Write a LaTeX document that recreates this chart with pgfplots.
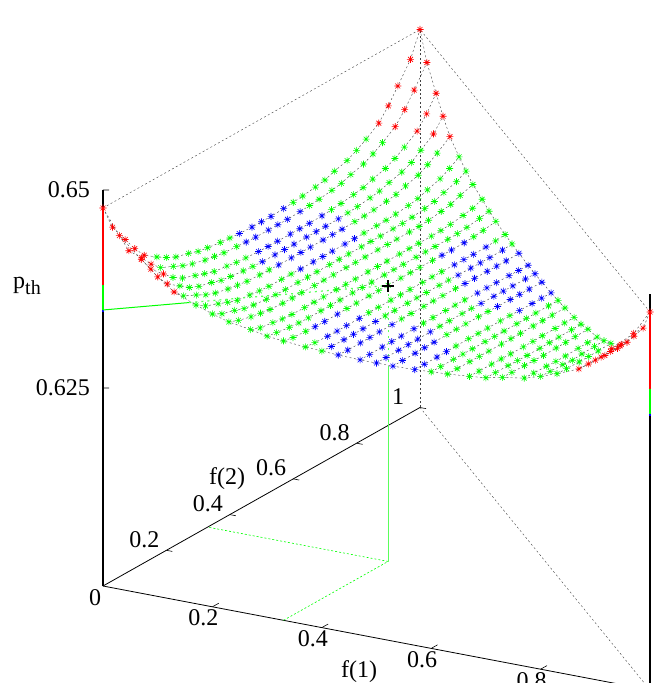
\documentclass[border=0pt]{standalone}
\usepackage{fontspec}
\setmainfont{Liberation Serif}
\usepackage{pgfplots}
\usepackage{pgfplotstable}
\pgfplotsset{compat=1.18}
\definecolor{lg}{RGB}{90,255,90}
\pgfdeclareplotmark{st}{%
  \pgfpathmoveto{\pgfqpoint{-\pgfplotmarksize}{0pt}}\pgfpathlineto{\pgfqpoint{\pgfplotmarksize}{0pt}}%
  \pgfpathmoveto{\pgfqpoint{0pt}{-\pgfplotmarksize}}\pgfpathlineto{\pgfqpoint{0pt}{\pgfplotmarksize}}%
  \pgfpathmoveto{\pgfqpoint{-0.7\pgfplotmarksize}{-0.7\pgfplotmarksize}}\pgfpathlineto{\pgfqpoint{0.7\pgfplotmarksize}{0.7\pgfplotmarksize}}%
  \pgfpathmoveto{\pgfqpoint{-0.7\pgfplotmarksize}{0.7\pgfplotmarksize}}\pgfpathlineto{\pgfqpoint{0.7\pgfplotmarksize}{-0.7\pgfplotmarksize}}%
  \pgfusepathqstroke}
\pgfplotstableread{
f1 f2 z c
0 0 0.64773 r
0 0.03 0.64463 r
0 0.07 0.64217 r
0 0.10 0.64034 r
0 0.13 0.63883 r
0 0.17 0.63771 g
0 0.20 0.63697 g
0 0.23 0.63636 g
0 0.27 0.63592 g
0 0.30 0.63548 g
0 0.33 0.63527 g
0 0.37 0.63504 g
0 0.40 0.63492 g
0 0.43 0.63481 b
0 0.47 0.63472 b
0 0.50 0.63472 b
0 0.53 0.63472 b
0 0.57 0.63481 b
0 0.60 0.63492 g
0 0.63 0.63504 g
0 0.67 0.63527 g
0 0.70 0.63548 g
0 0.73 0.63592 g
0 0.77 0.63636 g
0 0.80 0.63697 g
0 0.83 0.63771 g
0 0.87 0.63883 r
0 0.90 0.64034 r
0 0.93 0.64217 r
0 0.97 0.64463 r
0 1 0.64773 r
nan nan nan n
0.03 0 0.64463 r
0.03 0.03 0.64205 r
0.03 0.07 0.64025 r
0.03 0.10 0.63878 r
0.03 0.13 0.63766 g
0.03 0.17 0.63692 g
0.03 0.20 0.63632 g
0.03 0.23 0.63588 g
0.03 0.27 0.63546 g
0.03 0.30 0.63525 g
0.03 0.33 0.63503 g
0.03 0.37 0.63491 g
0.03 0.40 0.63481 b
0.03 0.43 0.63475 b
0.03 0.47 0.63474 b
0.03 0.50 0.63474 b
0.03 0.53 0.63475 b
0.03 0.57 0.63481 b
0.03 0.60 0.63491 g
0.03 0.63 0.63503 g
0.03 0.67 0.63525 g
0.03 0.70 0.63546 g
0.03 0.73 0.63588 g
0.03 0.77 0.63632 g
0.03 0.80 0.63692 g
0.03 0.83 0.63766 g
0.03 0.87 0.63878 r
0.03 0.90 0.64025 r
0.03 0.93 0.64205 r
0.03 0.97 0.64463 r
nan nan nan n
0.07 0 0.64217 r
0.07 0.03 0.64025 r
0.07 0.07 0.63874 r
0.07 0.10 0.63762 g
0.07 0.13 0.63687 g
0.07 0.17 0.63628 g
0.07 0.20 0.63584 g
0.07 0.23 0.63543 g
0.07 0.27 0.63523 g
0.07 0.30 0.63502 g
0.07 0.33 0.63491 g
0.07 0.37 0.63481 b
0.07 0.40 0.63477 b
0.07 0.43 0.63476 b
0.07 0.47 0.63476 b
0.07 0.50 0.63476 b
0.07 0.53 0.63477 b
0.07 0.57 0.63481 b
0.07 0.60 0.63491 g
0.07 0.63 0.63502 g
0.07 0.67 0.63523 g
0.07 0.70 0.63543 g
0.07 0.73 0.63584 g
0.07 0.77 0.63628 g
0.07 0.80 0.63687 g
0.07 0.83 0.63762 g
0.07 0.87 0.63874 r
0.07 0.90 0.64025 r
0.07 0.93 0.64217 r
nan nan nan n
0.10 0 0.64034 r
0.10 0.03 0.63878 r
0.10 0.07 0.63762 g
0.10 0.10 0.63675 g
0.10 0.13 0.63622 g
0.10 0.17 0.63580 g
0.10 0.20 0.63540 g
0.10 0.23 0.63521 g
0.10 0.27 0.63501 g
0.10 0.30 0.63490 g
0.10 0.33 0.63482 b
0.10 0.37 0.63479 b
0.10 0.40 0.63478 b
0.10 0.43 0.63478 b
0.10 0.47 0.63478 b
0.10 0.50 0.63478 b
0.10 0.53 0.63479 b
0.10 0.57 0.63482 b
0.10 0.60 0.63490 g
0.10 0.63 0.63501 g
0.10 0.67 0.63521 g
0.10 0.70 0.63540 g
0.10 0.73 0.63580 g
0.10 0.77 0.63622 g
0.10 0.80 0.63675 g
0.10 0.83 0.63762 g
0.10 0.87 0.63878 r
0.10 0.90 0.64034 r
nan nan nan n
0.13 0 0.63883 r
0.13 0.03 0.63766 g
0.13 0.07 0.63687 g
0.13 0.10 0.63622 g
0.13 0.13 0.63577 g
0.13 0.17 0.63537 g
0.13 0.20 0.63518 g
0.13 0.23 0.63500 g
0.13 0.27 0.63490 g
0.13 0.30 0.63486 g
0.13 0.33 0.63481 b
0.13 0.37 0.63480 b
0.13 0.40 0.63480 b
0.13 0.43 0.63480 b
0.13 0.47 0.63480 b
0.13 0.50 0.63480 b
0.13 0.53 0.63481 b
0.13 0.57 0.63486 g
0.13 0.60 0.63490 g
0.13 0.63 0.63500 g
0.13 0.67 0.63518 g
0.13 0.70 0.63537 g
0.13 0.73 0.63577 g
0.13 0.77 0.63622 g
0.13 0.80 0.63687 g
0.13 0.83 0.63766 g
0.13 0.87 0.63883 r
nan nan nan n
0.17 0 0.63771 g
0.17 0.03 0.63692 g
0.17 0.07 0.63628 g
0.17 0.10 0.63580 g
0.17 0.13 0.63537 g
0.17 0.17 0.63516 g
0.17 0.20 0.63499 g
0.17 0.23 0.63489 g
0.17 0.27 0.63487 g
0.17 0.30 0.63486 g
0.17 0.33 0.63482 b
0.17 0.37 0.63482 b
0.17 0.40 0.63482 b
0.17 0.43 0.63482 b
0.17 0.47 0.63482 b
0.17 0.50 0.63482 b
0.17 0.53 0.63486 g
0.17 0.57 0.63487 g
0.17 0.60 0.63489 g
0.17 0.63 0.63499 g
0.17 0.67 0.63516 g
0.17 0.70 0.63537 g
0.17 0.73 0.63580 g
0.17 0.77 0.63628 g
0.17 0.80 0.63692 g
0.17 0.83 0.63771 g
nan nan nan n
0.20 0 0.63697 g
0.20 0.03 0.63632 g
0.20 0.07 0.63584 g
0.20 0.10 0.63540 g
0.20 0.13 0.63518 g
0.20 0.17 0.63499 g
0.20 0.20 0.63489 g
0.20 0.23 0.63487 g
0.20 0.27 0.63487 g
0.20 0.30 0.63486 g
0.20 0.33 0.63486 g
0.20 0.37 0.63486 g
0.20 0.40 0.63486 g
0.20 0.43 0.63486 g
0.20 0.47 0.63486 g
0.20 0.50 0.63486 g
0.20 0.53 0.63487 g
0.20 0.57 0.63487 g
0.20 0.60 0.63489 g
0.20 0.63 0.63499 g
0.20 0.67 0.63518 g
0.20 0.70 0.63540 g
0.20 0.73 0.63584 g
0.20 0.77 0.63632 g
0.20 0.80 0.63697 g
nan nan nan n
0.23 0 0.63636 g
0.23 0.03 0.63588 g
0.23 0.07 0.63543 g
0.23 0.10 0.63521 g
0.23 0.13 0.63500 g
0.23 0.17 0.63489 g
0.23 0.20 0.63487 g
0.23 0.23 0.63487 g
0.23 0.27 0.63487 g
0.23 0.30 0.63487 g
0.23 0.33 0.63487 g
0.23 0.37 0.63487 g
0.23 0.40 0.63487 g
0.23 0.43 0.63487 g
0.23 0.47 0.63487 g
0.23 0.50 0.63487 g
0.23 0.53 0.63487 g
0.23 0.57 0.63487 g
0.23 0.60 0.63489 g
0.23 0.63 0.63500 g
0.23 0.67 0.63521 g
0.23 0.70 0.63543 g
0.23 0.73 0.63588 g
0.23 0.77 0.63636 g
nan nan nan n
0.27 0 0.63592 g
0.27 0.03 0.63546 g
0.27 0.07 0.63523 g
0.27 0.10 0.63501 g
0.27 0.13 0.63490 g
0.27 0.17 0.63487 g
0.27 0.20 0.63487 g
0.27 0.23 0.63487 g
0.27 0.27 0.63487 g
0.27 0.30 0.63487 g
0.27 0.33 0.63487 g
0.27 0.37 0.63487 g
0.27 0.40 0.63487 g
0.27 0.43 0.63487 g
0.27 0.47 0.63487 g
0.27 0.50 0.63487 g
0.27 0.53 0.63487 g
0.27 0.57 0.63487 g
0.27 0.60 0.63490 g
0.27 0.63 0.63501 g
0.27 0.67 0.63523 g
0.27 0.70 0.63546 g
0.27 0.73 0.63592 g
nan nan nan n
0.30 0 0.63548 g
0.30 0.03 0.63525 g
0.30 0.07 0.63502 g
0.30 0.10 0.63490 g
0.30 0.13 0.63486 g
0.30 0.17 0.63486 g
0.30 0.20 0.63486 g
0.30 0.23 0.63487 g
0.30 0.27 0.63487 g
0.30 0.30 0.63487 g
0.30 0.33 0.63487 g
0.30 0.37 0.63487 g
0.30 0.40 0.63487 g
0.30 0.43 0.63487 g
0.30 0.47 0.63486 g
0.30 0.50 0.63486 g
0.30 0.53 0.63486 g
0.30 0.57 0.63486 g
0.30 0.60 0.63490 g
0.30 0.63 0.63502 g
0.30 0.67 0.63525 g
0.30 0.70 0.63548 g
nan nan nan n
0.33 0 0.63527 g
0.33 0.03 0.63503 g
0.33 0.07 0.63491 g
0.33 0.10 0.63482 b
0.33 0.13 0.63481 b
0.33 0.17 0.63482 b
0.33 0.20 0.63486 g
0.33 0.23 0.63487 g
0.33 0.27 0.63487 g
0.33 0.30 0.63487 g
0.33 0.33 0.63486 g
0.33 0.37 0.63487 g
0.33 0.40 0.63487 g
0.33 0.43 0.63487 g
0.33 0.47 0.63486 g
0.33 0.50 0.63482 b
0.33 0.53 0.63481 b
0.33 0.57 0.63482 b
0.33 0.60 0.63491 g
0.33 0.63 0.63503 g
0.33 0.67 0.63527 g
nan nan nan n
0.37 0 0.63504 g
0.37 0.03 0.63491 g
0.37 0.07 0.63481 b
0.37 0.10 0.63479 b
0.37 0.13 0.63480 b
0.37 0.17 0.63482 b
0.37 0.20 0.63486 g
0.37 0.23 0.63487 g
0.37 0.27 0.63487 g
0.37 0.30 0.63487 g
0.37 0.33 0.63487 g
0.37 0.37 0.63487 g
0.37 0.40 0.63487 g
0.37 0.43 0.63486 g
0.37 0.47 0.63482 b
0.37 0.50 0.63480 b
0.37 0.53 0.63479 b
0.37 0.57 0.63481 b
0.37 0.60 0.63491 g
0.37 0.63 0.63504 g
nan nan nan n
0.40 0 0.63492 g
0.40 0.03 0.63481 b
0.40 0.07 0.63477 b
0.40 0.10 0.63478 b
0.40 0.13 0.63480 b
0.40 0.17 0.63482 b
0.40 0.20 0.63486 g
0.40 0.23 0.63487 g
0.40 0.27 0.63487 g
0.40 0.30 0.63487 g
0.40 0.33 0.63487 g
0.40 0.37 0.63487 g
0.40 0.40 0.63486 g
0.40 0.43 0.63482 b
0.40 0.47 0.63480 b
0.40 0.50 0.63478 b
0.40 0.53 0.63477 b
0.40 0.57 0.63481 b
0.40 0.60 0.63492 g
nan nan nan n
0.43 0 0.63481 b
0.43 0.03 0.63475 b
0.43 0.07 0.63476 b
0.43 0.10 0.63478 b
0.43 0.13 0.63480 b
0.43 0.17 0.63482 b
0.43 0.20 0.63486 g
0.43 0.23 0.63487 g
0.43 0.27 0.63487 g
0.43 0.30 0.63487 g
0.43 0.33 0.63487 g
0.43 0.37 0.63486 g
0.43 0.40 0.63482 b
0.43 0.43 0.63480 b
0.43 0.47 0.63478 b
0.43 0.50 0.63476 b
0.43 0.53 0.63475 b
0.43 0.57 0.63481 b
nan nan nan n
0.47 0 0.63472 b
0.47 0.03 0.63474 b
0.47 0.07 0.63476 b
0.47 0.10 0.63478 b
0.47 0.13 0.63480 b
0.47 0.17 0.63482 b
0.47 0.20 0.63486 g
0.47 0.23 0.63487 g
0.47 0.27 0.63487 g
0.47 0.30 0.63487 g
0.47 0.33 0.63486 g
0.47 0.37 0.63482 b
0.47 0.40 0.63480 b
0.47 0.43 0.63478 b
0.47 0.47 0.63476 b
0.47 0.50 0.63474 b
0.47 0.53 0.63472 b
nan nan nan n
0.50 0 0.63472 b
0.50 0.03 0.63474 b
0.50 0.07 0.63476 b
0.50 0.10 0.63478 b
0.50 0.13 0.63480 b
0.50 0.17 0.63482 b
0.50 0.20 0.63486 g
0.50 0.23 0.63487 g
0.50 0.27 0.63487 g
0.50 0.30 0.63486 g
0.50 0.33 0.63482 b
0.50 0.37 0.63480 b
0.50 0.40 0.63478 b
0.50 0.43 0.63476 b
0.50 0.47 0.63474 b
0.50 0.50 0.63472 b
nan nan nan n
0.53 0 0.63472 b
0.53 0.03 0.63475 b
0.53 0.07 0.63477 b
0.53 0.10 0.63479 b
0.53 0.13 0.63481 b
0.53 0.17 0.63486 g
0.53 0.20 0.63487 g
0.53 0.23 0.63487 g
0.53 0.27 0.63487 g
0.53 0.30 0.63486 g
0.53 0.33 0.63481 b
0.53 0.37 0.63479 b
0.53 0.40 0.63477 b
0.53 0.43 0.63475 b
0.53 0.47 0.63472 b
nan nan nan n
0.57 0 0.63481 b
0.57 0.03 0.63481 b
0.57 0.07 0.63481 b
0.57 0.10 0.63482 b
0.57 0.13 0.63486 g
0.57 0.17 0.63487 g
0.57 0.20 0.63487 g
0.57 0.23 0.63487 g
0.57 0.27 0.63487 g
0.57 0.30 0.63486 g
0.57 0.33 0.63482 b
0.57 0.37 0.63481 b
0.57 0.40 0.63481 b
0.57 0.43 0.63481 b
nan nan nan n
0.60 0 0.63492 g
0.60 0.03 0.63491 g
0.60 0.07 0.63491 g
0.60 0.10 0.63490 g
0.60 0.13 0.63490 g
0.60 0.17 0.63489 g
0.60 0.20 0.63489 g
0.60 0.23 0.63489 g
0.60 0.27 0.63490 g
0.60 0.30 0.63490 g
0.60 0.33 0.63491 g
0.60 0.37 0.63491 g
0.60 0.40 0.63492 g
nan nan nan n
0.63 0 0.63504 g
0.63 0.03 0.63503 g
0.63 0.07 0.63502 g
0.63 0.10 0.63501 g
0.63 0.13 0.63500 g
0.63 0.17 0.63499 g
0.63 0.20 0.63499 g
0.63 0.23 0.63500 g
0.63 0.27 0.63501 g
0.63 0.30 0.63502 g
0.63 0.33 0.63503 g
0.63 0.37 0.63504 g
nan nan nan n
0.67 0 0.63527 g
0.67 0.03 0.63525 g
0.67 0.07 0.63523 g
0.67 0.10 0.63521 g
0.67 0.13 0.63518 g
0.67 0.17 0.63516 g
0.67 0.20 0.63518 g
0.67 0.23 0.63521 g
0.67 0.27 0.63523 g
0.67 0.30 0.63525 g
0.67 0.33 0.63527 g
nan nan nan n
0.70 0 0.63548 g
0.70 0.03 0.63546 g
0.70 0.07 0.63543 g
0.70 0.10 0.63540 g
0.70 0.13 0.63537 g
0.70 0.17 0.63537 g
0.70 0.20 0.63540 g
0.70 0.23 0.63543 g
0.70 0.27 0.63546 g
0.70 0.30 0.63548 g
nan nan nan n
0.73 0 0.63592 g
0.73 0.03 0.63588 g
0.73 0.07 0.63584 g
0.73 0.10 0.63580 g
0.73 0.13 0.63577 g
0.73 0.17 0.63580 g
0.73 0.20 0.63584 g
0.73 0.23 0.63588 g
0.73 0.27 0.63592 g
nan nan nan n
0.77 0 0.63636 g
0.77 0.03 0.63632 g
0.77 0.07 0.63628 g
0.77 0.10 0.63622 g
0.77 0.13 0.63622 g
0.77 0.17 0.63628 g
0.77 0.20 0.63632 g
0.77 0.23 0.63636 g
nan nan nan n
0.80 0 0.63697 g
0.80 0.03 0.63692 g
0.80 0.07 0.63687 g
0.80 0.10 0.63675 g
0.80 0.13 0.63687 g
0.80 0.17 0.63692 g
0.80 0.20 0.63697 g
nan nan nan n
0.83 0 0.63771 g
0.83 0.03 0.63766 g
0.83 0.07 0.63762 g
0.83 0.10 0.63762 g
0.83 0.13 0.63766 g
0.83 0.17 0.63771 g
nan nan nan n
0.87 0 0.63883 r
0.87 0.03 0.63878 r
0.87 0.07 0.63874 r
0.87 0.10 0.63878 r
0.87 0.13 0.63883 r
nan nan nan n
0.90 0 0.64034 r
0.90 0.03 0.64025 r
0.90 0.07 0.64025 r
0.90 0.10 0.64034 r
nan nan nan n
0.93 0 0.64217 r
0.93 0.03 0.64205 r
0.93 0.07 0.64217 r
nan nan nan n
0.97 0 0.64463 r
0.97 0.03 0.64463 r
nan nan nan n
1 0 0.64773 r
}\surf
\pgfplotstableread{
f1 f2 z
0 0 0.64773
0.03 0 0.64463
0.07 0 0.64217
0.10 0 0.64034
0.13 0 0.63883
0.17 0 0.63771
0.20 0 0.63697
0.23 0 0.63636
0.27 0 0.63592
0.30 0 0.63548
0.33 0 0.63527
0.37 0 0.63504
0.40 0 0.63492
0.43 0 0.63481
0.47 0 0.63472
0.50 0 0.63472
0.53 0 0.63472
0.57 0 0.63481
0.60 0 0.63492
0.63 0 0.63504
0.67 0 0.63527
0.70 0 0.63548
0.73 0 0.63592
0.77 0 0.63636
0.80 0 0.63697
0.83 0 0.63771
0.87 0 0.63883
0.90 0 0.64034
0.93 0 0.64217
0.97 0 0.64463
1 0 0.64773
}\front
\pgfplotstableread{
f1 f2 z
0 1 0.64773
0.03 0.97 0.64463
0.07 0.93 0.64217
0.10 0.90 0.64034
0.13 0.87 0.63883
0.17 0.83 0.63771
0.20 0.80 0.63697
0.23 0.77 0.63636
0.27 0.73 0.63592
0.30 0.70 0.63548
0.33 0.67 0.63527
0.37 0.63 0.63504
0.40 0.60 0.63492
0.43 0.57 0.63481
0.47 0.53 0.63472
0.50 0.50 0.63472
0.53 0.47 0.63472
0.57 0.43 0.63481
0.60 0.40 0.63492
0.63 0.37 0.63504
0.67 0.33 0.63527
0.70 0.30 0.63548
0.73 0.27 0.63592
0.77 0.23 0.63636
0.80 0.20 0.63697
0.83 0.17 0.63771
0.87 0.13 0.63883
0.90 0.10 0.64034
0.93 0.07 0.64217
0.97 0.03 0.64463
1 0 0.64773
}\rightedge
\begin{document}
\begin{tikzpicture}
\begin{axis}[name=ax,
  x={(273.5pt,-52pt)}, y={(158.5pt,89.25pt)}, z={(0pt,3960pt)},
  xmin=0,xmax=1,ymin=0,ymax=1,zmin=0.6,zmax=0.65,
  axis x line=bottom, axis y line=right, axis z line=left,
  axis line style={-, line width=0.4pt},
  y axis line style={draw=none},
  z axis line style={-, line width=0.8pt},
  xtick={0.2,0.4,0.6,0.8}, ytick={0.2,0.4,0.6,0.8,1}, ztick={0.625,0.65},
  major tick length=0pt,
  /pgf/number format/assume math mode=true,
  /pgf/number format/precision=3,
  tick label style={font=\fontsize{12}{14}\selectfont},
  xticklabel style={anchor=center,xshift=-4.5pt,yshift=-5.5pt},
  yticklabel style={anchor=center,xshift=-11pt,yshift=-192.5pt},
  zticklabel style={anchor=east,xshift=-3pt,yshift=0pt},
  clip=false, unbounded coords=jump,
]
\addplot3[no marks,black!75,line width=0.2pt,dash pattern=on 1pt off 1.2pt] table[x=f1,y=f2,z=z]{\surf};
\addplot3[no marks,black!75,line width=0.2pt,dash pattern=on 1pt off 1.2pt] table[x=f1,y=f2,z=z]{\front};
\addplot3[no marks,black!75,line width=0.2pt,dash pattern=on 1pt off 1.2pt] table[x=f1,y=f2,z=z]{\rightedge};
\addplot3[no marks,black!75,line width=0.2pt,dash pattern=on 1pt off 1.2pt] coordinates {(0,0,0.64773) (0,1,0.64773) (1,0,0.64773)};
\addplot3[no marks,black!75,line width=0.2pt,dash pattern=on 1pt off 1.2pt] coordinates {(0,1,0.6) (0,1,0.64773)};
\addplot3[no marks,black!75,line width=0.2pt,dash pattern=on 1pt off 1.2pt] coordinates {(0,1,0.6) (1,0,0.6)};
\addplot3[no marks,black,line width=0.4pt] coordinates {(0,0,0.6) (0,1,0.6)};
\addplot3[no marks,black,line width=0.8pt] coordinates {(1,0,0.6) (1,0,0.65)};
% tick marks
\pgfplotsinvokeforeach{0.2,0.4,0.6,0.8}{\addplot3[no marks,black,line width=0.3pt] coordinates {(#1,0,0.6) (#1,0.02,0.6)};}
\pgfplotsinvokeforeach{0.2,0.4,0.6,0.8,1}{\addplot3[no marks,black,line width=0.3pt] coordinates {(0,#1,0.6) (0.011,#1,0.6)};}
\addplot3[no marks,black,line width=0.3pt] coordinates {(0,0,0.625) (0.0082,0.0048,0.625)};
\addplot3[no marks,black,line width=0.3pt] coordinates {(0,0,0.65) (0.0082,0.0048,0.65)};
\addplot3[no marks,red,line width=1pt] coordinates {(0,0,0.64773) (0,0,0.63801)};
\addplot3[no marks,green,line width=1pt] coordinates {(0,0,0.63801) (0,0,0.63485)};
\addplot3[no marks,blue,line width=1pt] coordinates {(0,0,0.63485) (0,0,0.6346)};
\addplot3[no marks,red,line width=1pt] coordinates {(1,0,0.64773) (1,0,0.63801)};
\addplot3[no marks,green,line width=1pt] coordinates {(1,0,0.63801) (1,0,0.63485)};
\addplot3[no marks,blue,line width=1pt] coordinates {(1,0,0.63485) (1,0,0.6346)};
\addplot3[no marks,green,line width=0.5pt] coordinates {(0,0,0.63485) (0.1,0.1,0.63485)};
\addplot3[no marks,lg,line width=0.6pt,dash pattern=on 1pt off 2pt] coordinates {(0.1,0.1,0.63485) (0.33,0.33,0.63485)};
\addplot3[no marks,lg,line width=0.6pt] coordinates {(0.33,0.33,0.6) (0.33,0.33,0.62437)};
\addplot3[no marks,lg,line width=0.6pt,dash pattern=on 1pt off 2pt] coordinates {(0.33,0.33,0.62437) (0.33,0.33,0.63485)};
\addplot3[no marks,green,line width=0.3pt,dash pattern=on 1pt off 1pt] coordinates {(0.33,0,0.6) (0.33,0.33,0.6) (0,0.33,0.6)};
\addplot3[scatter,only marks,scatter src=explicit symbolic,
  scatter/classes={r={mark=st,red,mark size=1.75pt,line width=.3pt},
   g={mark=st,green,mark size=1.75pt,line width=.3pt},
   b={mark=st,blue,mark size=1.75pt,line width=.3pt}}]
  table[x=f1,y=f2,z=z,meta=c]{\surf};
\addplot3[only marks,mark=+,black,mark size=3pt,line width=0.7pt] coordinates {(0.33,0.33,0.63475)};
\coordinate (O) at (axis cs:0,0,0.6);
\end{axis}
\pgfresetboundingbox
\path[use as bounding box] ([shift={(-51.5pt,-48.5pt)}]O) rectangle ++(332pt,341.5pt);
\begin{scope}[every node/.style={font=\fontsize{12}{14}\selectfont}]
\node at ([shift={(-4pt,-6pt)}]O) {0};
\node at ([shift={(62pt,53.5pt)}]O) {f(2)};
\node at ([shift={(128pt,-43pt)}]O) {f(1)};
\node at ([shift={(-38pt,150pt)}]O) {p{\fontsize{10}{12}\selectfont\raisebox{-3pt}{th}}};
\end{scope}
\end{tikzpicture}
\end{document}
